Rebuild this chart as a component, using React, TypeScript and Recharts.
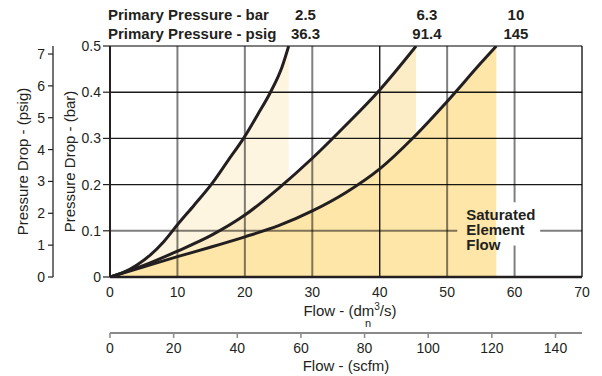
import {
  Area,
  ComposedChart,
  Line,
  ReferenceArea,
  ReferenceLine,
  XAxis,
  YAxis,
} from "recharts";

// pressure drop (bar) vs flow (dm3/s n) for each primary pressure
const flow25 = [0, 2, 4, 6, 8, 10, 12.5, 15, 17.5, 19.8, 22, 23.8, 25.5, 26.5];
const drop25 = [0, 0.01, 0.026, 0.048, 0.077, 0.113, 0.156, 0.2, 0.252, 0.3, 0.354, 0.4, 0.454, 0.5];

const flow63 = [0, 5, 10, 15, 20, 25, 30, 35, 40, 45.4];
const drop63 = [0, 0.025, 0.056, 0.09, 0.134, 0.192, 0.257, 0.329, 0.405, 0.5];

const flow10 = [0, 5, 10, 15, 20, 25, 30, 35, 40, 45, 50, 55, 57.3];
const drop10 = [0, 0.022, 0.044, 0.065, 0.087, 0.111, 0.143, 0.183, 0.234, 0.302, 0.38, 0.463, 0.5];

// header labels above the plot
const pressureBar = ["2.5", "6.3", "10"];
const pressurePsig = ["36.3", "91.4", "145"];
const pressureLabelFlow = [29, 47, 60.2];

const flowTicks = [0, 10, 20, 30, 40, 50, 60, 70];
const scfmTicks = [0, 20, 40, 60, 80, 100, 120, 140];
const barTicks = [0, 0.1, 0.2, 0.3, 0.4, 0.5];
const psigTicks = [0, 1, 2, 3, 4, 5, 6, 7];

const darkGridX = [40, 70];
const darkGridY = [0.2, 0.3, 0.4];

const PSI_PER_BAR = 14.5038;
const SCFM_PER_DM3S = 2.1189;

const INK = "#231f20";
const FILL25 = "#fef5e0";
const FILL63 = "#fcedc6";
const FILL10 = "#fde6a8";

const series = [
  { key: "p25", flow: flow25, drop: drop25, fill: FILL25 },
  { key: "p63", flow: flow63, drop: drop63, fill: FILL63 },
  { key: "p10", flow: flow10, drop: drop10, fill: FILL10 },
];

const flows = Array.from(new Set([...flow25, ...flow63, ...flow10])).sort((a, b) => a - b);
const data = flows.map((f) => {
  const row: Record<string, number> = { flow: f };
  series.forEach((s) => {
    const i = s.flow.indexOf(f);
    if (i >= 0) row[s.key] = s.drop[i];
  });
  return row;
});

const PressureTick = (props: any) => {
  const { x, index } = props;
  return (
    <g fontWeight="bold" fontSize={15} fill={INK}>
      <text x={x} y={20} textAnchor="middle" fill={INK}>{pressureBar[index]}</text>
      <text x={x} y={39} textAnchor="middle" fill={INK}>{pressurePsig[index]}</text>
    </g>
  );
};

const PressureTitle = (props: any) => {
  const { x } = props.viewBox;
  return (
    <g fontWeight="bold" fontSize={15} fill={INK}>
      <text x={x - 2} y={20} fill={INK}>Primary Pressure - bar</text>
      <text x={x - 2} y={39} fill={INK}>Primary Pressure - psig</text>
    </g>
  );
};

const FlowTitle = (props: any) => {
  const { x, y, width } = props.viewBox;
  const cx = x + width / 2;
  return (
    <g fill={INK}>
      <text x={cx + 4} y={y + 39} textAnchor="middle" fontSize={15} fill={INK}>
        Flow - (dm
        <tspan fontSize={10} dy={-6}>3</tspan>
        <tspan dy={6}>/s)</tspan>
      </text>
      <text x={cx + 22} y={y + 50} textAnchor="middle" fontSize={11} fill={INK}>n</text>
    </g>
  );
};

const ScfmTitle = (props: any) => {
  const { x, y, width } = props.viewBox;
  return (
    <text x={x + width / 2} y={y + 37.5} textAnchor="middle" fontSize={15} fill={INK}>
      Flow - (scfm)
    </text>
  );
};

const yTitle = (text: string, dx: number) => (props: any) => {
  const { x, y, height } = props.viewBox;
  const cx = x + dx;
  const cy = y + height / 2;
  return (
    <text x={cx} y={cy} transform={`rotate(-90 ${cx} ${cy})`} textAnchor="middle" fontSize={15} fill={INK}>
      {text}
    </text>
  );
};

const SaturatedLabel = (props: any) => {
  const { x, y } = props.viewBox;
  return (
    <text x={x + 9} y={y + 17.5} fontWeight="bold" fontSize={15} fill={INK}>
      <tspan x={x + 9}>Saturated</tspan>
      <tspan x={x + 9} dy={15}>Element</tspan>
      <tspan x={x + 9} dy={15}>Flow</tspan>
    </text>
  );
};

export default function App() {
  const flowEnd10 = flow10[flow10.length - 1];
  return (
    <div
      style={{
        position: "absolute",
        left: 0,
        top: 0,
        width: 602,
        height: 376,
        background: "#fff",
        fontFamily: "'Liberation Sans', Arial, Helvetica, sans-serif",
      }}
    >
      <ComposedChart width={602} height={376} data={data} margin={{ top: 0, right: 20, bottom: 0, left: 0 }}>
        <XAxis
          dataKey="flow"
          type="number"
          domain={[0, 70]}
          ticks={flowTicks}
          allowDataOverflow
          height={56}
          tickLine={false}
          tickSize={0}
          tickMargin={10}
          axisLine={{ stroke: INK, strokeWidth: 2.5 }}
          tick={{ fontSize: 14, fill: INK }}
          label={FlowTitle}
        />
        <XAxis
          xAxisId="scfm"
          dataKey={(d: any) => d.flow * SCFM_PER_DM3S}
          type="number"
          domain={[0, 70 * SCFM_PER_DM3S]}
          ticks={scfmTicks}
          allowDataOverflow
          height={43}
          tickSize={5}
          tickMargin={5}
          axisLine={{ stroke: "#8a8a8a", strokeWidth: 2 }}
          tickLine={{ stroke: "#8a8a8a", strokeWidth: 1.5 }}
          tick={{ fontSize: 14, fill: INK }}
          label={ScfmTitle}
        />
        <XAxis
          xAxisId="top"
          dataKey="flow"
          orientation="top"
          type="number"
          domain={[0, 70]}
          ticks={pressureLabelFlow}
          allowDataOverflow
          height={46}
          axisLine={false}
          tickLine={false}
          tickSize={0}
          tick={<PressureTick />}
          label={PressureTitle}
        />
        <YAxis
          yAxisId="bar"
          type="number"
          domain={[0, 0.5]}
          ticks={barTicks}
          allowDataOverflow
          width={57}
          tickSize={7}
          tickMargin={2}
          axisLine={{ stroke: INK, strokeWidth: 2 }}
          tickLine={{ stroke: INK, strokeWidth: 1.2 }}
          tick={{ fontSize: 14, fill: INK }}
          tickFormatter={(v: number) => (v === 0 ? "0" : v.toFixed(1))}
          label={yTitle("Pressure Drop - (bar)", 22)}
        />
        <YAxis
          yAxisId="psig"
          type="number"
          domain={[0, 0.5 * PSI_PER_BAR]}
          ticks={psigTicks}
          allowDataOverflow
          width={53}
          tickSize={5}
          tickMargin={3}
          axisLine={{ stroke: "#444", strokeWidth: 1.5 }}
          tickLine={{ stroke: INK, strokeWidth: 1.2 }}
          tick={{ fontSize: 14, fill: INK }}
          label={yTitle("Pressure Drop - (psig)", 27.5)}
        />

        {series.map((s) => (
          <Area
            key={`a-${s.key}`}
            yAxisId="bar"
            type="monotone"
            dataKey={s.key}
            stroke="none"
            fill={s.fill}
            fillOpacity={1}
            connectNulls
            isAnimationActive={false}
          />
        ))}

        {flowTicks.slice(1).map((v) => (
          <ReferenceLine
            key={`gx-${v}`}
            x={v}
            yAxisId="bar"
            stroke="#000"
            strokeOpacity={darkGridX.includes(v) ? 0.9 : 0.5}
            strokeWidth={darkGridX.includes(v) ? 1.4 : 2}
            zIndex={150}
          />
        ))}
        {barTicks.slice(1).map((v) => (
          <ReferenceLine
            key={`gy-${v}`}
            y={v}
            yAxisId="bar"
            stroke="#000"
            strokeOpacity={darkGridY.includes(v) ? 0.9 : 0.5}
            strokeWidth={darkGridY.includes(v) ? 1.4 : 2}
            zIndex={150}
          />
        ))}

        <ReferenceArea
          x1={51.5}
          x2={flowEnd10}
          y1={0.068}
          y2={0.162}
          yAxisId="bar"
          fill={FILL10}
          fillOpacity={1}
          stroke="none"
          zIndex={160}
        />
        <ReferenceArea
          x1={flowEnd10}
          x2={63.8}
          y1={0.068}
          y2={0.162}
          yAxisId="bar"
          fill="#fff"
          fillOpacity={1}
          stroke="none"
          zIndex={160}
        />
        <ReferenceArea
          x1={51.5}
          x2={63.8}
          y1={0.068}
          y2={0.162}
          yAxisId="bar"
          fill="none"
          fillOpacity={0}
          stroke="none"
          zIndex={170}
          label={SaturatedLabel}
        />

        {series.map((s) => (
          <Line
            key={`l-${s.key}`}
            yAxisId="bar"
            type="monotone"
            dataKey={s.key}
            stroke={INK}
            strokeWidth={3}
            dot={false}
            connectNulls
            isAnimationActive={false}
          />
        ))}
      </ComposedChart>
    </div>
  );
}
